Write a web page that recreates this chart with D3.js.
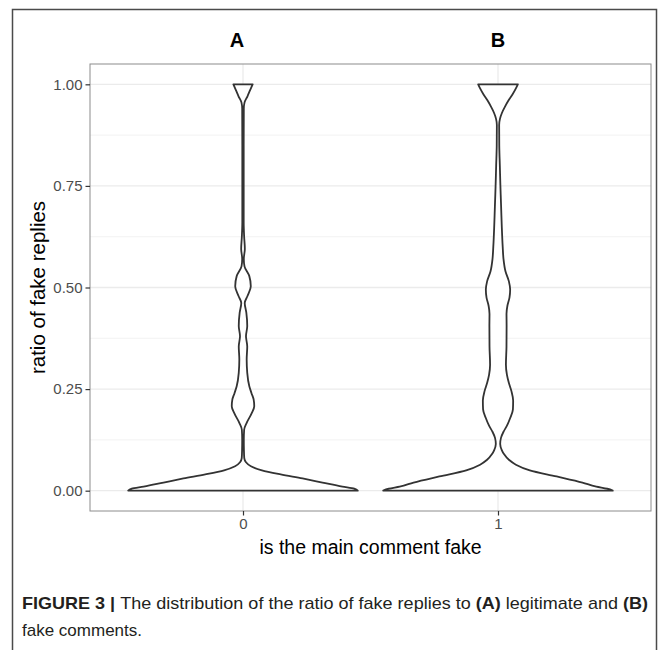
<!DOCTYPE html>
<html>
<head>
<meta charset="utf-8">
<script src="https://cdn.jsdelivr.net/npm/d3@7"></script>
<style>
  body { margin: 0; background: #fff; }
  svg { display: block; }
  .tick-label { font-family: "Liberation Sans", Arial, sans-serif; font-size: 15px; fill: #4d4d4d; }
  .axis-title { font-family: "Liberation Sans", Arial, sans-serif; font-size: 19.5px; fill: #000; }
  .tag { font-family: "Liberation Sans", Arial, sans-serif; font-size: 20px; font-weight: bold; fill: #000; }
  .caption { font-family: "Liberation Sans Narrow", "Liberation Sans", Arial, sans-serif; font-size: 17px; fill: #231f20; }
</style>
</head>
<body>
<svg id="chart" width="668" height="650"></svg>
<script>
// categories on the x axis and the panel tags above them
var categories = ["0", "1"];
var panelTags = ["A", "B"];
var yTicks = [0, 0.25, 0.5, 0.75, 1];
var yMinor = [0.125, 0.375, 0.625, 0.875];

// violin profiles: ratio value -> scaled density (1 = widest)
var ratioA = [0, 0.005, 0.01, 0.02, 0.03, 0.04, 0.05, 0.06, 0.07, 0.08, 0.1, 0.125, 0.15, 0.167, 0.19, 0.208,
  0.224, 0.24, 0.257, 0.29, 0.323, 0.355, 0.38, 0.405, 0.438, 0.462, 0.479, 0.503, 0.528, 0.552, 0.57,
  0.595, 0.625, 0.66, 0.75, 0.85, 0.94, 0.955, 0.97, 0.985, 1];
var densityA = [1, 0.97, 0.866, 0.693, 0.519, 0.329, 0.165, 0.069, 0.026, 0.011, 0.008, 0.007, 0.01, 0.032, 0.075, 0.098,
  0.093, 0.074, 0.055, 0.037, 0.032, 0.037, 0.026, 0.037, 0.029, 0.015, 0.039, 0.068, 0.055, 0.013, 0.007,
  0.016, 0.01, 0.006, 0.006, 0.006, 0.007, 0.013, 0.038, 0.061, 0.084];

var ratioB = [0, 0.005, 0.01, 0.02, 0.035, 0.05, 0.064, 0.076, 0.09, 0.1, 0.115, 0.13, 0.145, 0.16, 0.18, 0.2,
  0.222, 0.245, 0.265, 0.285, 0.31, 0.355, 0.405, 0.435, 0.455, 0.475, 0.495, 0.515, 0.54, 0.57, 0.6,
  0.65, 0.7, 0.75, 0.8, 0.85, 0.9, 0.915, 0.93, 0.945, 0.96, 0.975, 0.99, 1];
var densityB = [1, 0.952, 0.857, 0.736, 0.511, 0.277, 0.156, 0.095, 0.052, 0.033, 0.019, 0.026, 0.048, 0.078, 0.108, 0.13,
  0.132, 0.117, 0.095, 0.078, 0.069, 0.074, 0.075, 0.074, 0.082, 0.1, 0.106, 0.095, 0.065, 0.048, 0.041,
  0.033, 0.027, 0.021, 0.016, 0.011, 0.01, 0.017, 0.035, 0.061, 0.091, 0.126, 0.156, 0.173];

var svg = d3.select("#chart");
var panel = { left: 90, right: 651, top: 64, bottom: 511 };

// figure frame, open at the bottom edge of the crop
svg.append("path")
  .attr("d", "M12.5,660V9.5H656.5V660")
  .attr("fill", "none")
  .attr("stroke", "#4a4a4a")
  .attr("stroke-width", 1.5);

var x = d3.scalePoint()
  .domain(categories)
  .range([panel.left, panel.right])
  .padding(0.6);

var y = d3.scaleLinear()
  .domain([-0.05, 1.05])
  .range([panel.bottom, panel.top]);

var halfWidth = d3.scaleLinear()
  .domain([0, 1])
  .range([0, x.step() * 0.45]);

var g = svg.append("g");

// grid
g.selectAll(".minor").data(yMinor).enter().append("line")
  .attr("x1", panel.left).attr("x2", panel.right)
  .attr("y1", function(d) { return y(d); }).attr("y2", function(d) { return y(d); })
  .attr("stroke", "#efefef").attr("stroke-width", 0.8);
g.selectAll(".major").data(yTicks).enter().append("line")
  .attr("x1", panel.left).attr("x2", panel.right)
  .attr("y1", function(d) { return y(d); }).attr("y2", function(d) { return y(d); })
  .attr("stroke", "#ebebeb").attr("stroke-width", 1.3);
g.selectAll(".vmajor").data(categories).enter().append("line")
  .attr("x1", function(d) { return x(d); }).attr("x2", function(d) { return x(d); })
  .attr("y1", panel.top).attr("y2", panel.bottom)
  .attr("stroke", "#ebebeb").attr("stroke-width", 1.3);

// violins
var violins = [
  { cat: categories[0], ratio: ratioA, density: densityA },
  { cat: categories[1], ratio: ratioB, density: densityB }
];

violins.forEach(function(v) {
  var pts = v.ratio.map(function(r, i) { return { r: r, d: v.density[i] }; });
  var cx = x(v.cat);
  var area = d3.area()
    .y(function(d) { return y(d.r); })
    .x0(function(d) { return cx - halfWidth(d.d); })
    .x1(function(d) { return cx + halfWidth(d.d); })
    .curve(d3.curveMonotoneY);
  g.append("path")
    .datum(pts)
    .attr("d", area)
    .attr("fill", "#fff")
    .attr("stroke", "#333")
    .attr("stroke-width", 1.8)
    .attr("stroke-linejoin", "round");
});

// panel border
g.append("rect")
  .attr("x", panel.left).attr("y", panel.top)
  .attr("width", panel.right - panel.left).attr("height", panel.bottom - panel.top)
  .attr("fill", "none").attr("stroke", "#8c8c8c").attr("stroke-width", 1);

// y axis
var yAxis = d3.axisLeft(y).tickValues(yTicks).tickFormat(d3.format(".2f")).tickSize(4.5).tickPadding(3);
var ya = svg.append("g").attr("transform", "translate(" + panel.left + ",0)").call(yAxis);
ya.select(".domain").remove();
ya.selectAll(".tick line").attr("stroke", "#333").attr("stroke-width", 1.2);
ya.selectAll(".tick text").attr("class", "tick-label").attr("fill", null);

// x axis
var xAxis = d3.axisBottom(x).tickSize(4.5).tickPadding(3);
var xa = svg.append("g").attr("transform", "translate(0," + panel.bottom + ")").call(xAxis);
xa.select(".domain").remove();
xa.selectAll(".tick line").attr("stroke", "#333").attr("stroke-width", 1.2);
xa.selectAll(".tick text").attr("class", "tick-label").attr("fill", null);

svg.append("text")
  .attr("class", "axis-title")
  .attr("x", (panel.left + panel.right) / 2)
  .attr("y", 554)
  .attr("text-anchor", "middle")
  .text("is the main comment fake");

svg.append("text")
  .attr("class", "axis-title")
  .style("font-size", "20.5px")
  .attr("transform", "translate(45," + (panel.top + panel.bottom) / 2 + ") rotate(-90)")
  .attr("text-anchor", "middle")
  .text("ratio of fake replies");

// panel tags A / B
var tagX = [237, 498];
svg.selectAll(".tag").data(panelTags).enter().append("text")
  .attr("class", "tag")
  .attr("x", function(d, i) { return tagX[i]; })
  .attr("y", 47)
  .attr("text-anchor", "middle")
  .text(function(d) { return d; });

// caption
var cap1 = svg.append("text").attr("class", "caption").attr("x", 22).attr("y", 609)
  .attr("textLength", 626).attr("lengthAdjust", "spacingAndGlyphs");
cap1.append("tspan").attr("font-weight", "bold").text("FIGURE 3 | ");
cap1.append("tspan").text("The distribution of the ratio of fake replies to ");
cap1.append("tspan").attr("font-weight", "bold").text("(A)");
cap1.append("tspan").text(" legitimate and ");
cap1.append("tspan").attr("font-weight", "bold").text("(B)");

svg.append("text").attr("class", "caption").attr("x", 22).attr("y", 636).text("fake comments.");
</script>
</body>
</html>
